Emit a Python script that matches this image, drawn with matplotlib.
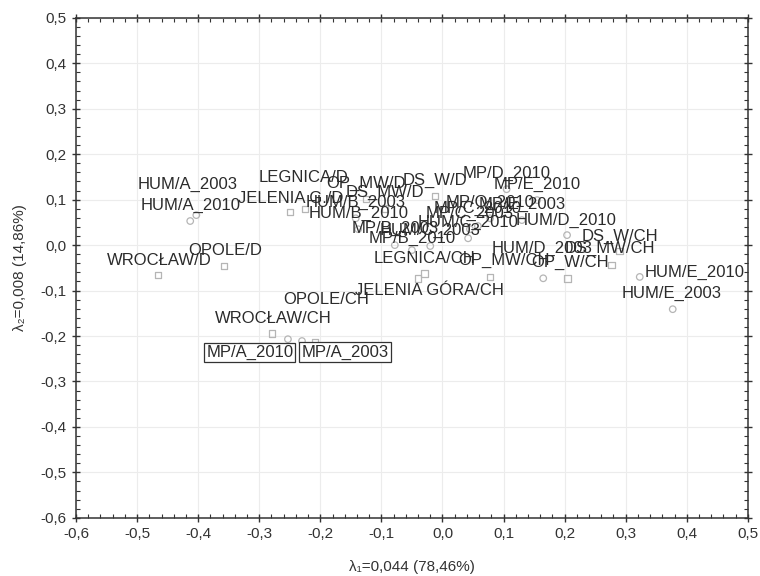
import matplotlib
matplotlib.use("Agg")
import matplotlib.pyplot as plt
from matplotlib.ticker import MultipleLocator, AutoMinorLocator, FuncFormatter

plt.rcParams['font.family'] = ['Liberation Sans', 'DejaVu Sans']

# column points (squares): regions / type
col_names = ["WROCŁAW/D", "OPOLE/D", "JELENIA G./D", "LEGNICA/D", "OP_MW/D",
             "DS_MW/D", "DS_W/D", "WROCŁAW/CH", "OPOLE/CH", "JELENIA GÓRA/CH",
             "LEGNICA/CH", "OP_MW/CH", "OP_W/CH", "DS_W/CH", "DS_MW/CH"]
col_x = [-0.466, -0.358, -0.250, -0.225, -0.125, -0.094, -0.012, -0.279, -0.209,
         -0.040, -0.029, 0.078, 0.205, 0.290, 0.277]
col_y = [-0.066, -0.046, 0.073, 0.079, 0.101, 0.081, 0.108, -0.194, -0.213,
         -0.073, -0.062, -0.070, -0.073, -0.013, -0.044]

# row points (circles): faculties / year
row_names = ["HUM/A_2003", "HUM/A_2010", "HUM/B_2003", "HUM/B_2010", "MP/D_2010",
             "MP/E_2010", "MP/O_2010", "MP/E_2003", "MP/C_2003", "MP/C_2010",
             "HUM/C_2010", "HUM/C_2003", "MP/B_2003", "MP/B_2010", "HUM/D_2010",
             "HUM/D_2003", "HUM/E_2010", "HUM/E_2003", "MP/A_2010", "MP/A_2003"]
row_x = [-0.403, -0.413, -0.142, -0.138, 0.105, 0.155, 0.078, 0.130, 0.045, 0.058,
         0.042, -0.020, -0.078, -0.050, 0.204, 0.165, 0.323, 0.377, -0.253, -0.230]
row_y = [0.066, 0.053, 0.059, 0.035, 0.123, 0.099, 0.059, 0.055, 0.035, 0.042,
         0.015, -0.002, 0.000, -0.011, 0.022, -0.073, -0.070, -0.141, -0.207, -0.211]

# label offsets in pixels (label centre relative to point)
col_off = [(1, 15), (1, 16), (1, 13), (-2, 32), (0, 16), (0, 16), (0, 16), (1, 15),
           (11, 42), (11, -12), (0, 15), (14, 17), (2, 16), (0, 15), (-2, 17)]
row_off = [(-9, 31), (0, 16), (0, 16), (0, 16), (0, 16), (0, 16), (0, 16), (0, 16),
           (0, 16), (0, 18), (0, 16), (0, 16), (0, 17), (0, 12), (-1, 15),
           (-1, 30), (55, 5), (-1, 16), (-38, -13), (43, -11)]
boxed = ["MP/A_2010", "MP/A_2003"]

fig = plt.figure(figsize=(7.6, 5.76), dpi=100)
ax = fig.add_axes([0.100, 0.101, 0.884, 0.868])

ax.scatter(col_x, col_y, marker='s', s=22, facecolors='none',
           edgecolors='#b5b5b5', linewidths=0.9, zorder=2)
ax.scatter(row_x, row_y, marker='o', s=22, facecolors='none',
           edgecolors='#b5b5b5', linewidths=0.9, zorder=2)

txt = '#2b2b2b'
for names, xs, ys, offs in [(col_names, col_x, col_y, col_off),
                            (row_names, row_x, row_y, row_off)]:
    for n, x, y, (dx, dy) in zip(names, xs, ys, offs):
        bb = None
        if n in boxed:
            bb = dict(boxstyle='square,pad=0.12', fc='white', ec='#333333', lw=0.9)
        ax.annotate(n, (x, y), xytext=(dx, dy), textcoords='offset pixels',
                    ha='center', va='center', fontsize=12, color=txt,
                    bbox=bb, zorder=3)

ax.set_xlim(-0.6, 0.5)
ax.set_ylim(-0.6, 0.5)
ax.xaxis.set_major_locator(MultipleLocator(0.1))
ax.yaxis.set_major_locator(MultipleLocator(0.1))
ax.xaxis.set_minor_locator(AutoMinorLocator(5))
ax.yaxis.set_minor_locator(AutoMinorLocator(5))
fmt = FuncFormatter(lambda v, p: f"{v:.1f}".replace('.', ',').replace('-0,0', '0,0'))
ax.xaxis.set_major_formatter(fmt)
ax.yaxis.set_major_formatter(fmt)
ax.tick_params(which='major', direction='inout', length=6, width=1,
               labelsize=11, colors='#333333', top=True, right=True)
ax.tick_params(which='minor', direction='in', length=3, width=0.8,
               colors='#333333', top=True, right=True)
ax.grid(True, which='major', color='#ececec', lw=0.8)
for s in ax.spines.values():
    s.set_color('#333333')
    s.set_linewidth(1.1)

ax.set_xlabel('λ₁=0,044 (78,46%)', fontsize=11, color='#333333', labelpad=14)
ax.set_ylabel('λ₂=0,008 (14,86%)', fontsize=11, color='#333333', labelpad=10)

fig.savefig('out.png', dpi=100)
